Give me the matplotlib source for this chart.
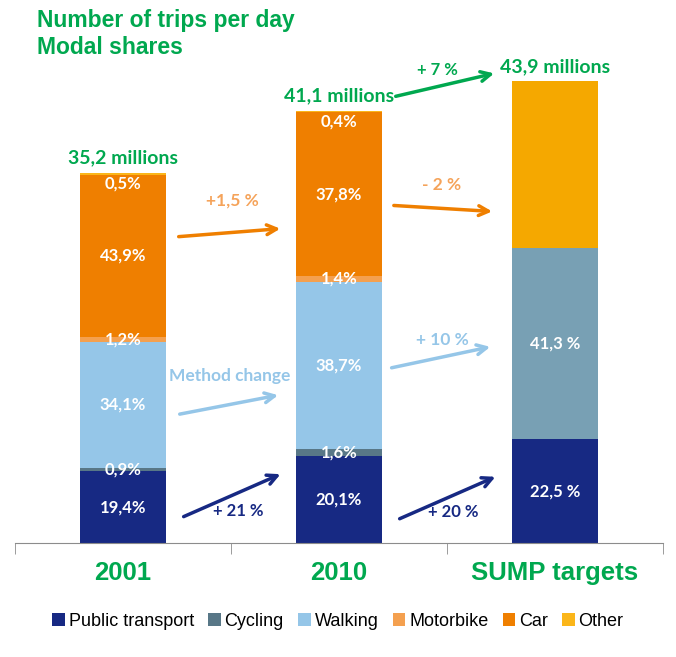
import matplotlib.pyplot as plt
from matplotlib.patches import Patch

# data
groups = ['2001', '2010', 'SUMP targets']
totals = [35.2, 41.1, 43.9]  # millions of trips per day
modes = ['Public transport', 'Cycling', 'Walking', 'Motorbike', 'Car', 'Other']
shares_2001 = [19.4, 0.9, 34.1, 1.2, 43.9, 0.5]
shares_2010 = [20.1, 1.6, 38.7, 1.4, 37.8, 0.4]
sump_parts = ['Public transport', 'Active modes', 'Car and other']
shares_sump = [22.5, 41.3, 36.2]
labels_2001 = ['19,4%', '0,9%', '34,1%', '1,2%', '43,9%', '0,5%']
labels_2010 = ['20,1%', '1,6%', '38,7%', '1,4%', '37,8%', '0,4%']
labels_sump = ['22,5 %', '41,3 %', '']
total_labels = ['35,2 millions', '41,1 millions', '43,9 millions']

mode_colors = ['#172983', '#587787', '#95c6e8', '#f4a04f', '#ef7f00', '#fbb61a']
sump_colors = ['#172983', '#78a0b4', '#f5a800']

green = '#00a84f'
lab_font = 'Lato'

fig = plt.figure(figsize=(6.76, 6.57), dpi=100)
ax = fig.add_axes([15 / 676, 1 - 543 / 657, 648 / 676, 543 / 657])
ax.set_xlim(-0.5, 2.5)
ax.set_ylim(0, 543 / 10.52)

width = 0.4


def draw_bar(x, total, shares, colors, labels):
    bottom = 0
    for i, (s, c, lab) in enumerate(zip(shares, colors, labels)):
        h = total * s / 100
        ax.bar(x, h, width, bottom=bottom, color=c, edgecolor='none')
        if lab:
            if i == len(shares) - 1 and s < 1:
                ax.text(x, bottom + h - 0.25, lab, ha='center', va='top', color='white',
                        fontsize=12, fontweight='bold', family=lab_font)
            else:
                ax.text(x, bottom + h / 2, lab, ha='center', va='center', color='white',
                        fontsize=12, fontweight='bold', family=lab_font)
        bottom += h


draw_bar(0, totals[0], shares_2001, mode_colors, labels_2001)
draw_bar(1, totals[1], shares_2010, mode_colors, labels_2010)
draw_bar(2, totals[2], shares_sump, sump_colors, labels_sump)

for x, t, lab in zip(range(3), totals, total_labels):
    ax.text(x, t + 0.6, lab, ha='center', va='bottom', color=green,
            fontsize=14, fontweight='bold', family=lab_font)

# axes styling
for side in ['left', 'right', 'top']:
    ax.spines[side].set_visible(False)
ax.spines['bottom'].set_color('#8c8c8c')
ax.set_yticks([])
ax.set_xticks(range(3))
ax.set_xticklabels(groups, color=green, fontsize=18.5, fontweight='bold',
                   family='Liberation Sans')
ax.tick_params(axis='x', which='major', length=0, pad=13)
ax.set_xticks([-0.5, 0.5, 1.5, 2.5], minor=True)
ax.tick_params(axis='x', which='minor', length=8, color='#8c8c8c', direction='out')


def arrow(x0, y0, x1, y1, color):
    ax.annotate('', xy=(x1, y1), xytext=(x0, y0),
                arrowprops=dict(arrowstyle='->,head_length=0.7,head_width=0.35',
                                color=color, lw=2.5))


# evolution arrows
arrow(1.25, 42.4, 1.731, 44.7, green)
ax.text(1.454, 45.0, '+ 7 %', ha='center', va='center', color=green,
        fontsize=12, fontweight='bold', family=lab_font)

arrow(0.245, 29.1, 0.741, 29.9, '#ef7f00')
ax.text(0.505, 32.6, '+1,5 %', ha='center', va='center', color='#f5a35a',
        fontsize=12.5, fontweight='bold', family=lab_font)
arrow(1.241, 32.1, 1.722, 31.5, '#ef7f00')
ax.text(1.477, 34.0, '- 2 %', ha='center', va='center', color='#f5a35a',
        fontsize=12.5, fontweight='bold', family=lab_font)

arrow(0.25, 12.2, 0.731, 14.1, '#95c6e8')
ax.text(0.495, 15.9, 'Method change', ha='center', va='center', color='#95c6e8',
        fontsize=12.5, fontweight='bold', family=lab_font)
arrow(1.231, 16.6, 1.713, 18.7, '#95c6e8')
ax.text(1.477, 19.3, '+ 10 %', ha='center', va='center', color='#95c6e8',
        fontsize=12.5, fontweight='bold', family=lab_font)

arrow(0.269, 2.4, 0.741, 6.65, '#172983')
ax.text(0.532, 3.0, '+ 21 %', ha='center', va='center', color='#172983',
        fontsize=12, fontweight='bold', family=lab_font)
arrow(1.269, 2.2, 1.736, 6.4, '#172983')
ax.text(1.528, 2.95, '+ 20 %', ha='center', va='center', color='#172983',
        fontsize=12, fontweight='bold', family=lab_font)

# title
fig.text(37 / 676, 1 - 20 / 657, 'Number of trips per day', ha='left', va='center',
         color=green, fontsize=16.5, fontweight='bold', family='Liberation Sans')
fig.text(37 / 676, 1 - 47 / 657, 'Modal shares', ha='left', va='center',
         color=green, fontsize=16.5, fontweight='bold', family='Liberation Sans')

# legend
handles = [Patch(facecolor=c, edgecolor='none', label=m) for m, c in zip(modes, mode_colors)]
fig.legend(handles=handles, loc='center', bbox_to_anchor=(0.5, 1 - 621 / 657), ncol=6,
           frameon=False, handlelength=0.7, handleheight=0.7, handletextpad=0.2,
           columnspacing=0.8, prop={'family': 'Liberation Sans', 'size': 13})

fig.savefig('out.png', dpi=100)
